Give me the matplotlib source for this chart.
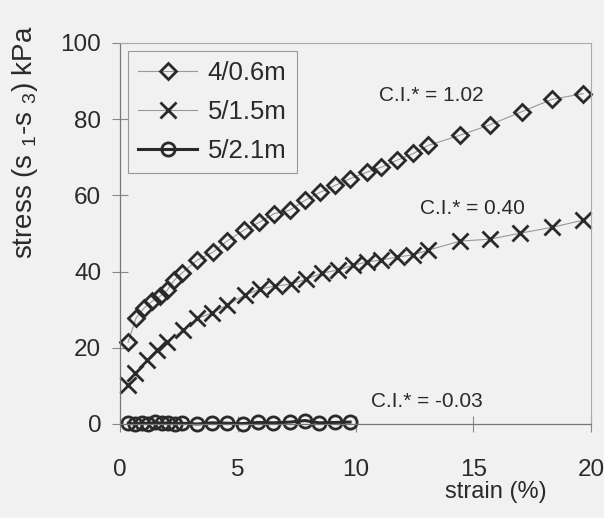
import matplotlib.pyplot as plt

plt.rcParams['font.family'] = ['Liberation Sans', 'DejaVu Sans']
plt.rcParams['mathtext.default'] = 'regular'

# 4/0.6m  (C.I.* = 1.02)
strain_a = [0.34, 0.68, 1.02, 1.36, 1.70, 2.0, 2.3, 2.63, 3.27, 3.95, 4.54, 5.27, 5.9, 6.54,
            7.2, 7.86, 8.49, 9.13, 9.77, 10.49, 11.1, 11.75, 12.45, 13.08, 14.44, 15.7,
            17.07, 18.34, 19.66]
stress_a = [21.4, 27.8, 30.4, 32.2, 33.5, 35.1, 37.7, 39.6, 43.0, 45.1, 48.0, 50.9, 52.9, 55.2,
            56.1, 58.7, 60.8, 62.6, 64.4, 66.1, 67.4, 69.2, 71.0, 73.1, 75.8, 78.5,
            82.0, 85.2, 86.7]

# 5/1.5m  (C.I.* = 0.40)
strain_b = [0.34, 0.64, 1.15, 1.57, 2.0, 2.68, 3.27, 3.9, 4.54, 5.3, 5.94, 6.58, 7.26, 7.9,
            8.58, 9.26, 9.9, 10.49, 11.1, 11.76, 12.44, 13.08, 14.44, 15.7, 17.0, 18.34, 19.66]
stress_b = [10.2, 13.4, 16.8, 19.4, 21.6, 24.6, 27.7, 29.1, 31.2, 33.8, 35.4, 36.2, 36.7, 38.0,
            39.6, 40.4, 41.7, 42.5, 43.1, 43.8, 44.4, 45.6, 48.0, 48.5, 50.1, 51.6, 53.5]

# 5/2.1m  (C.I.* = -0.03)
strain_c = [0.35, 0.64, 0.92, 1.2, 1.49, 1.77, 2.05, 2.34, 2.63, 3.27, 3.9, 4.54, 5.22, 5.86,
            6.5, 7.22, 7.86, 8.45, 9.13, 9.77]
stress_c = [0.2, 0.0, 0.3, 0.1, 0.4, 0.2, 0.3, 0.1, 0.2, 0.0, 0.3, 0.2, 0.1, 0.4,
            0.3, 0.5, 0.9, 0.3, 0.4, 0.5]

labels = ['4/0.6m', '5/1.5m', '5/2.1m']
ci_text = ['C.I.* = 1.02', 'C.I.* = 0.40', 'C.I.* = -0.03']

bg = '#f1f1f1'
ink = '#2a2a2a'

fig = plt.figure(figsize=(6.04, 5.18), dpi=100, facecolor=bg)
ax = fig.add_axes([0.1987, 0.1815, 0.7798, 0.7355], facecolor=bg)

ax.plot(strain_a, stress_a, color='#999999', lw=0.8, marker='D', ms=8.5, mfc='none',
        mec=ink, mew=2, label=labels[0], clip_on=False)
ax.plot(strain_b, stress_b, color='#999999', lw=0.8, marker='x', ms=12, mec=ink, mew=2,
        label=labels[1], clip_on=False)
ax.plot(strain_c, stress_c, color=ink, lw=2.2, marker='o', ms=9.5, mfc='none', mec=ink,
        mew=2, label=labels[2], clip_on=False)

ax.set_xlim(0, 20)
ax.set_ylim(0, 100)
ax.set_xticks([0, 5, 10, 15, 20])
ax.set_yticks([0, 20, 40, 60, 80, 100])
ax.tick_params(direction='inout', length=11, width=0.8, color='#888888',
               labelsize=17.5, labelcolor=ink)
ax.tick_params(axis='y', pad=8)
ax.tick_params(axis='x', pad=20)

for side in ['top', 'right']:
    ax.spines[side].set_color('#aaaaaa')
    ax.spines[side].set_linewidth(0.8)
for side in ['left', 'bottom']:
    ax.spines[side].set_color('#777777')
    ax.spines[side].set_linewidth(0.9)

ax.text(13.23, 86.2, ci_text[0], fontsize=15, color=ink, ha='center', va='center')
ax.text(14.97, 56.6, ci_text[1], fontsize=15, color=ink, ha='center', va='center')
ax.text(13.02, 5.85, ci_text[2], fontsize=15, color=ink, ha='center', va='center')

leg = ax.legend(loc='upper left', bbox_to_anchor=(128 / 604, 1 - 51 / 518),
                bbox_transform=fig.transFigure, borderaxespad=0, fontsize=18.5,
                handlelength=2.3, labelspacing=0.57, borderpad=0.4, handletextpad=0.4,
                fancybox=False, facecolor=bg, edgecolor='#999999', framealpha=1)
leg.get_frame().set_linewidth(0.8)
for t in leg.get_texts():
    t.set_color(ink)

fig.text(25 / 604, 1 - 142 / 518, 'stress (s $_{1}$-s $_{3}$) kPa', rotation=90,
         fontsize=20, color=ink, ha='center', va='center')
fig.text(496 / 604, 1 - 492 / 518, 'strain (%)', fontsize=17, color=ink,
         ha='center', va='center')

plt.savefig('out.png', dpi=100, facecolor=bg)
